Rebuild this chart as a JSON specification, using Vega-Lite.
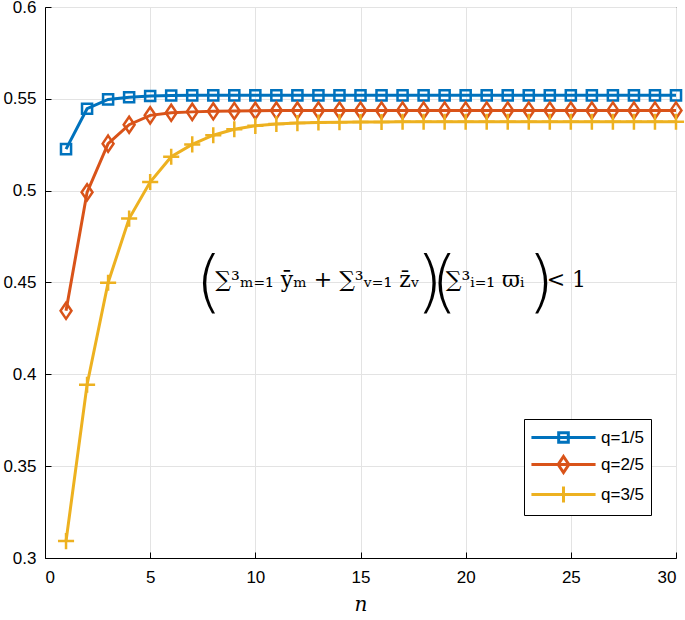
{
  "$schema": "https://vega.github.io/schema/vega-lite/v6.json",
  "width": 631,
  "height": 551,
  "autosize": {"type": "none"},
  "padding": {"left": 45, "top": 7, "right": 9, "bottom": 62},
  "background": "white",
  "config": {
    "view": {"stroke": "black", "strokeWidth": 1},
    "font": "Liberation Sans",
    "axis": {
      "domainColor": "black", "domainWidth": 1,
      "gridColor": "#e3e3e3", "gridWidth": 1,
      "tickColor": "black", "tickSize": -6, "tickWidth": 1,
      "labelFont": "Liberation Sans", "labelFontSize": 17, "labelColor": "black",
      "titleColor": "black"
    }
  },
  "datasets": {
    "series": [
      {"n": 1, "v": 0.5226, "q": "q=1/5"}, {"n": 2, "v": 0.5446, "q": "q=1/5"}, {"n": 3, "v": 0.5497, "q": "q=1/5"},
      {"n": 4, "v": 0.5509, "q": "q=1/5"}, {"n": 5, "v": 0.5515, "q": "q=1/5"}, {"n": 6, "v": 0.5518, "q": "q=1/5"},
      {"n": 7, "v": 0.5519, "q": "q=1/5"}, {"n": 8, "v": 0.5519, "q": "q=1/5"}, {"n": 9, "v": 0.5519, "q": "q=1/5"},
      {"n": 10, "v": 0.5519, "q": "q=1/5"}, {"n": 11, "v": 0.5519, "q": "q=1/5"}, {"n": 12, "v": 0.5519, "q": "q=1/5"},
      {"n": 13, "v": 0.5519, "q": "q=1/5"}, {"n": 14, "v": 0.5519, "q": "q=1/5"}, {"n": 15, "v": 0.5519, "q": "q=1/5"},
      {"n": 16, "v": 0.5519, "q": "q=1/5"}, {"n": 17, "v": 0.5519, "q": "q=1/5"}, {"n": 18, "v": 0.5519, "q": "q=1/5"},
      {"n": 19, "v": 0.5519, "q": "q=1/5"}, {"n": 20, "v": 0.5519, "q": "q=1/5"}, {"n": 21, "v": 0.5519, "q": "q=1/5"},
      {"n": 22, "v": 0.5519, "q": "q=1/5"}, {"n": 23, "v": 0.5519, "q": "q=1/5"}, {"n": 24, "v": 0.5519, "q": "q=1/5"},
      {"n": 25, "v": 0.5519, "q": "q=1/5"}, {"n": 26, "v": 0.5519, "q": "q=1/5"}, {"n": 27, "v": 0.5519, "q": "q=1/5"},
      {"n": 28, "v": 0.5519, "q": "q=1/5"}, {"n": 29, "v": 0.5519, "q": "q=1/5"}, {"n": 30, "v": 0.5519, "q": "q=1/5"},
      {"n": 1, "v": 0.4346, "q": "q=2/5"}, {"n": 2, "v": 0.4991, "q": "q=2/5"}, {"n": 3, "v": 0.5256, "q": "q=2/5"},
      {"n": 4, "v": 0.5359, "q": "q=2/5"}, {"n": 5, "v": 0.5410, "q": "q=2/5"}, {"n": 6, "v": 0.5424, "q": "q=2/5"},
      {"n": 7, "v": 0.5429, "q": "q=2/5"}, {"n": 8, "v": 0.5432, "q": "q=2/5"}, {"n": 9, "v": 0.5434, "q": "q=2/5"},
      {"n": 10, "v": 0.5435, "q": "q=2/5"}, {"n": 11, "v": 0.5436, "q": "q=2/5"}, {"n": 12, "v": 0.5436, "q": "q=2/5"},
      {"n": 13, "v": 0.5437, "q": "q=2/5"}, {"n": 14, "v": 0.5437, "q": "q=2/5"}, {"n": 15, "v": 0.5437, "q": "q=2/5"},
      {"n": 16, "v": 0.5437, "q": "q=2/5"}, {"n": 17, "v": 0.5437, "q": "q=2/5"}, {"n": 18, "v": 0.5437, "q": "q=2/5"},
      {"n": 19, "v": 0.5437, "q": "q=2/5"}, {"n": 20, "v": 0.5437, "q": "q=2/5"}, {"n": 21, "v": 0.5437, "q": "q=2/5"},
      {"n": 22, "v": 0.5437, "q": "q=2/5"}, {"n": 23, "v": 0.5437, "q": "q=2/5"}, {"n": 24, "v": 0.5437, "q": "q=2/5"},
      {"n": 25, "v": 0.5437, "q": "q=2/5"}, {"n": 26, "v": 0.5437, "q": "q=2/5"}, {"n": 27, "v": 0.5437, "q": "q=2/5"},
      {"n": 28, "v": 0.5437, "q": "q=2/5"}, {"n": 29, "v": 0.5437, "q": "q=2/5"}, {"n": 30, "v": 0.5437, "q": "q=2/5"},
      {"n": 1, "v": 0.3092, "q": "q=3/5"}, {"n": 2, "v": 0.3943, "q": "q=3/5"}, {"n": 3, "v": 0.4499, "q": "q=3/5"},
      {"n": 4, "v": 0.4848, "q": "q=3/5"}, {"n": 5, "v": 0.5047, "q": "q=3/5"}, {"n": 6, "v": 0.5185, "q": "q=3/5"},
      {"n": 7, "v": 0.5252, "q": "q=3/5"}, {"n": 8, "v": 0.5302, "q": "q=3/5"}, {"n": 9, "v": 0.5334, "q": "q=3/5"},
      {"n": 10, "v": 0.5353, "q": "q=3/5"}, {"n": 11, "v": 0.5363, "q": "q=3/5"}, {"n": 12, "v": 0.5368, "q": "q=3/5"},
      {"n": 13, "v": 0.5371, "q": "q=3/5"}, {"n": 14, "v": 0.5373, "q": "q=3/5"}, {"n": 15, "v": 0.5374, "q": "q=3/5"},
      {"n": 16, "v": 0.5374, "q": "q=3/5"}, {"n": 17, "v": 0.5375, "q": "q=3/5"}, {"n": 18, "v": 0.5375, "q": "q=3/5"},
      {"n": 19, "v": 0.5375, "q": "q=3/5"}, {"n": 20, "v": 0.5375, "q": "q=3/5"}, {"n": 21, "v": 0.5375, "q": "q=3/5"},
      {"n": 22, "v": 0.5375, "q": "q=3/5"}, {"n": 23, "v": 0.5375, "q": "q=3/5"}, {"n": 24, "v": 0.5375, "q": "q=3/5"},
      {"n": 25, "v": 0.5375, "q": "q=3/5"}, {"n": 26, "v": 0.5375, "q": "q=3/5"}, {"n": 27, "v": 0.5375, "q": "q=3/5"},
      {"n": 28, "v": 0.5375, "q": "q=3/5"}, {"n": 29, "v": 0.5375, "q": "q=3/5"}, {"n": 30, "v": 0.5375, "q": "q=3/5"}
    ],
    "parens": [
      {"x": 7.15, "y": 0.4485, "t": "("},
      {"x": 17.65, "y": 0.4485, "t": ")"},
      {"x": 18.35, "y": 0.4485, "t": "("},
      {"x": 22.95, "y": 0.4485, "t": ")"}
    ],
    "eq": [
      {"x": 8.1, "y": 0.4515, "t": "∑³ₘ₌₁ ȳₘ + ∑³ᵥ₌₁ z̄ᵥ"},
      {"x": 19.05, "y": 0.4515, "t": "∑³ᵢ₌₁ ϖᵢ"},
      {"x": 23.85, "y": 0.4515, "t": "< 1"}
    ]
  },
  "layer": [
    {
      "data": {"name": "series"},
      "mark": {"type": "line", "strokeWidth": 3, "clip": true},
      "encoding": {
        "x": {"field": "n", "type": "quantitative", "scale": {"domain": [0, 30], "nice": false},
              "axis": {"values": [0, 5, 10, 15, 20, 25, 30], "title": "n", "titleFont": "DejaVu Serif", "titleFontStyle": "italic", "titleFontWeight": "normal", "titleFontSize": 20, "titlePadding": 9, "labelPadding": 17, "grid": true}},
        "y": {"field": "v", "type": "quantitative", "scale": {"domain": [0.3, 0.6], "nice": false, "zero": false},
              "axis": {"values": [0.3, 0.35, 0.4, 0.45, 0.5, 0.55, 0.6], "format": ".2~f", "title": null, "labelPadding": 15, "grid": true}},
        "color": {"field": "q", "type": "nominal", "scale": {"domain": ["q=1/5", "q=2/5", "q=3/5"], "range": ["#0072BD", "#D95319", "#EDB120"]}, "legend": null}
      }
    },
    {
      "data": {"name": "series"},
      "mark": {"type": "point", "filled": false, "strokeWidth": 2.5, "opacity": 1, "size": 196},
      "encoding": {
        "x": {"field": "n", "type": "quantitative"},
        "y": {"field": "v", "type": "quantitative"},
        "color": {"field": "q", "type": "nominal", "scale": {"domain": ["q=1/5", "q=2/5", "q=3/5"], "range": ["#0072BD", "#D95319", "#EDB120"]}, "legend": null},
        "shape": {"field": "q", "type": "nominal", "scale": {"domain": ["q=1/5", "q=2/5", "q=3/5"], "range": ["M-0.72,-0.72H0.72V0.72H-0.72Z", "M0,-1.15L0.78,0L0,1.15L-0.78,0Z", "M-1.15,0H1.15M0,-1.15V1.15"]}, "legend": null}
      }
    },
    {
      "data": {"name": "series"},
      "transform": [{"filter": "datum.n > 100"}],
      "mark": {"type": "point", "filled": false, "strokeWidth": 3, "opacity": 1},
      "encoding": {
        "x": {"field": "n", "type": "quantitative"},
        "y": {"field": "v", "type": "quantitative"},
        "color": {"field": "q", "type": "nominal", "scale": {"domain": ["q=1/5", "q=2/5", "q=3/5"], "range": ["#0072BD", "#D95319", "#EDB120"]},
                  "legend": {"orient": "none", "legendX": 479, "legendY": 412, "title": null, "strokeColor": "black", "fillColor": "white", "padding": 6, "labelFontSize": 17, "labelFont": "Liberation Sans", "labelColor": "black", "symbolSize": 457, "symbolStrokeWidth": 3, "symbolOffset": 21, "labelOffset": 25, "rowPadding": 1, "symbolFillColor": "transparent"}},
        "shape": {"field": "q", "type": "nominal", "scale": {"domain": ["q=1/5", "q=2/5", "q=3/5"], "range": ["M-3,0H3M-0.45,-0.45H0.45V0.45H-0.45Z", "M-3,0H3M0,-0.75L0.5,0L0,0.75L-0.5,0Z", "M-3,0H3M0,-0.75V0.75"]},
                  "legend": {"orient": "none", "legendX": 479, "legendY": 412, "title": null, "strokeColor": "black", "fillColor": "white", "padding": 6, "labelFontSize": 17, "labelFont": "Liberation Sans", "labelColor": "black", "symbolSize": 457, "symbolStrokeWidth": 3, "symbolOffset": 21, "labelOffset": 25, "rowPadding": 1, "symbolFillColor": "transparent"}}
      }
    },
    {
      "data": {"name": "parens"},
      "mark": {"type": "text", "font": "DejaVu Sans", "fontSize": 68, "fontWeight": 200, "baseline": "middle", "align": "left", "color": "black"},
      "encoding": {
        "x": {"field": "x", "type": "quantitative"},
        "y": {"field": "y", "type": "quantitative"},
        "text": {"field": "t"}
      }
    },
    {
      "data": {"name": "eq"},
      "mark": {"type": "text", "font": "DejaVu Serif", "fontSize": 22, "baseline": "middle", "align": "left", "color": "black"},
      "encoding": {
        "x": {"field": "x", "type": "quantitative"},
        "y": {"field": "y", "type": "quantitative"},
        "text": {"field": "t"}
      }
    }
  ],
  "resolve": {"scale": {"color": "independent", "shape": "independent"}}
}
